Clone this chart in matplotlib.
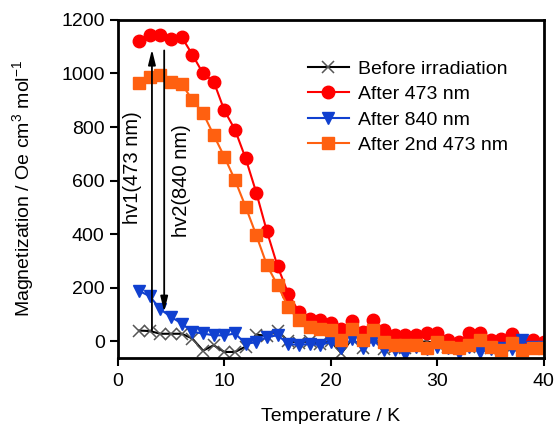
import matplotlib
matplotlib.use('Agg')
import matplotlib.pyplot as plt

plt.rcParams['font.family'] = ['Liberation Sans', 'DejaVu Sans']
plt.rcParams['mathtext.fontset'] = 'custom'
plt.rcParams['mathtext.rm'] = 'Liberation Sans'
plt.rcParams['mathtext.default'] = 'regular'

temps = list(range(2, 41))

before = [40, 38, 28, 28, 28, 10, -35, -15, -40, -40, -20, 25, 20, 40, 0, -5, 0, -10, 0,
          -45, 10, -25, 15, -30, -20, -25, -5, 0, -10, -20, -25, -20, -10, -25, -30, -20, -10, -15, -20]
after473 = [1120, 1142, 1142, 1128, 1136, 1070, 1000, 970, 862, 790, 683, 555, 410, 280, 178, 110,
            82, 79, 68, 47, 76, 35, 79, 41, 22, 22, 22, 29, 31, 4, -2, 29, 31, 4, 8, 26, -2, 4, -2]
after840 = [188, 168, 119, 91, 66, 35, 29, 22, 22, 29, -9, -4, 16, 22, -9, -15, -9, -15, -2,
            -27, 10, -27, 4, -34, -34, -46, -20, -30, -20, -25, -45, -20, -40, -30, -25, -30, 4, -20, -20]
after2nd = [965, 986, 995, 970, 961, 901, 852, 770, 689, 602, 502, 396, 284, 209, 128, 79,
            54, 47, 41, 6, 47, 4, 41, -2, -15, -15, -15, -27, -2, -20, -27, -15, 4, -20, -34, -8, -34, -27, -27]

fig = plt.figure(figsize=(5.56, 4.24), dpi=100)
ax = fig.add_axes([0.212, 0.156, 0.766, 0.797])

ax.plot(temps, before, color='black', lw=1.5, marker='x', ms=9, mec='#555555', mew=1.1,
        label='Before irradiation')
ax.plot(temps, after473, color='#ff0000', lw=1.5, marker='o', ms=9, label='After 473 nm')
ax.plot(temps, after840, color='#1040d0', lw=1.5, marker='v', ms=9, label='After 840 nm')
ax.plot(temps, after2nd, color='#ff6010', lw=1.5, marker='s', ms=9, label='After 2nd 473 nm')

# irradiation arrows
arr = dict(arrowstyle='-|>,head_width=0.22,head_length=0.9', color='black', lw=1.3, shrinkA=0, shrinkB=0)
ax.annotate('', xy=(3.2, 1090), xytext=(3.2, 40), arrowprops=arr)
ax.annotate('', xy=(4.35, 110), xytext=(4.35, 1086), arrowprops=arr)
ax.text(1.4, 650, 'hv1(473 nm)', rotation=90, ha='center', va='center', fontsize=14.5)
ax.text(6.0, 600, 'hv2(840 nm)', rotation=90, ha='center', va='center', fontsize=14.5)

ax.set_xlim(0, 40)
ax.set_ylim(-62, 1200)
ax.set_xticks([0, 10, 20, 30, 40])
ax.set_yticks([0, 200, 400, 600, 800, 1000, 1200])
ax.tick_params(direction='out', length=6, width=1.5, labelsize=14)
ax.tick_params(axis='x', pad=5)
for s in ax.spines.values():
    s.set_linewidth(2)

ax.set_xlabel('Temperature / K', fontsize=14, labelpad=13)
ax.set_ylabel('Magnetization / Oe cm$^{3}$ mol$^{-1}$', fontsize=14, labelpad=18)

ax.legend(loc='upper left', bbox_to_anchor=(0.446, 0.881), frameon=False, fontsize=14,
          handlelength=2.1, handletextpad=0.5, labelspacing=0.4, borderpad=0, borderaxespad=0)

plt.savefig('out.png', dpi=100)
